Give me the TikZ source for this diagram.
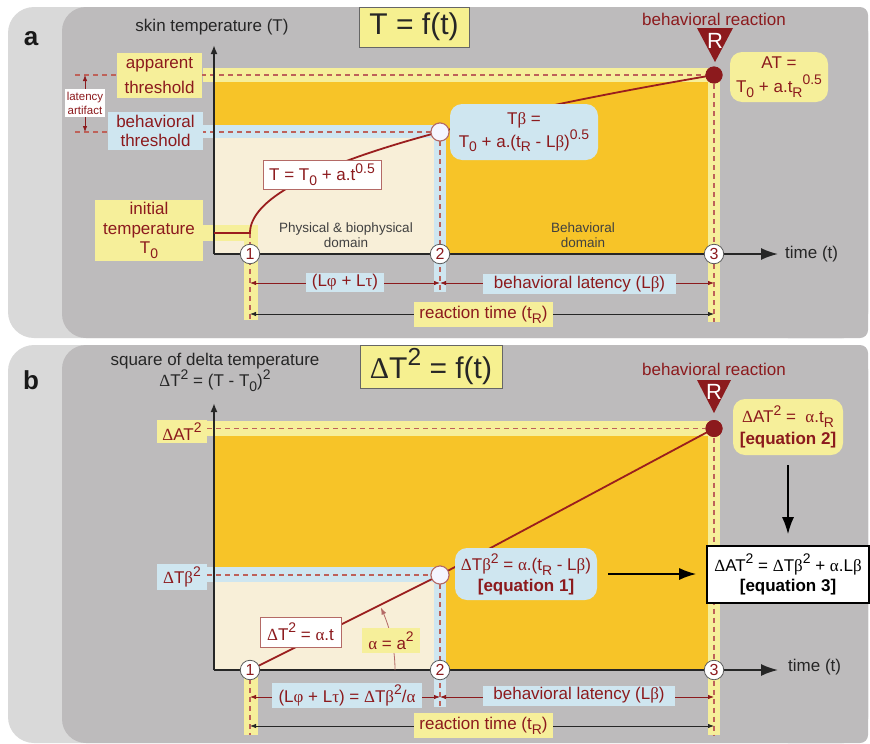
\documentclass[tikz,border=0pt]{standalone}
\usepackage{fontspec}
\setmainfont{Liberation Sans}
\newfontfamily\grkfont{Liberation Serif}
\usepackage{graphicx}
\usetikzlibrary{arrows.meta}
\definecolor{lgray}{HTML}{D9D9D9}
\definecolor{dgray}{HTML}{BDBBBC}
\definecolor{orng}{HTML}{F7C428}
\definecolor{cream}{HTML}{F8EFD8}
\definecolor{lyel}{HTML}{F6EF9A}
\definecolor{lblue}{HTML}{CFE6F0}
\definecolor{dred}{HTML}{8C1A1D}
\definecolor{dashc}{HTML}{BE6159}
\definecolor{ttly}{HTML}{F6F090}
\definecolor{curvc}{HTML}{9A1E1E}
\definecolor{thinr}{HTML}{B46A66}
\newcommand{\lo}[1]{\raisebox{-0.28em}{\scalebox{0.82}{#1}}}
\newcommand{\hi}[1]{\raisebox{0.45em}{\scalebox{0.82}{#1}}}
\newcommand{\xa}{{\grkfont α}}
\newcommand{\xb}{{\grkfont β}}
\newcommand{\xf}{{\grkfont φ}}
\newcommand{\xt}{{\grkfont τ}}
\newcommand{\xD}{{\grkfont Δ}}
\tikzset{
  lblbox/.style={inner sep=0pt, align=center, text=dred},
  ybox/.style={lblbox, fill=lyel},
  bbox/.style={lblbox, fill=lblue},
  wbox/.style={lblbox, fill=white, draw=thinr, line width=0.8pt},
  titlebox/.style={inner sep=0pt, fill=ttly, draw=gray!80!black, line width=0.8pt, font=\fontsize{30pt}{30pt}\selectfont, text=black!85},
  dsh/.style={dashc, line width=1.3pt, dash pattern=on 5pt off 4pt},
  axisln/.style={black!85, line width=1.8pt},
  dimr/.style={dred, line width=0.8pt, {Latex[length=6pt,width=4.5pt]}-{Latex[length=6pt,width=4.5pt]}},
  dimk/.style={black!85, line width=0.8pt, {Latex[length=6pt,width=4.5pt]}-{Latex[length=6pt,width=4.5pt]}},
  numc/.style={circle, draw=gray!70!black, line width=0.8pt, fill=white, minimum size=19.5pt, inner sep=0pt, text=dred, font=\fontsize{16pt}{16pt}\selectfont},
  openpt/.style={circle, draw=thinr, line width=1pt, fill=blue!4!white, minimum size=18pt, inner sep=0pt},
  fullpt/.style={circle, fill=dred, minimum size=17pt, inner sep=0pt},
  curv/.style={curvc, line width=1.8pt},
  bigarr/.style={black, line width=1.6pt, -{Latex[length=17pt,width=12pt]}},
  domtxt/.style={align=center, text=black!75, font=\fontsize{13.5pt}{15pt}\selectfont},
  plabel/.style={font=\fontsize{26pt}{26pt}\selectfont\bfseries, text=black!90},
  rtri/.style={fill=dred}
}
\begin{document}
\begin{tikzpicture}[x=1pt,y=-1pt, font=\fontsize{17pt}{21pt}\selectfont]
\useasboundingbox (0,0) rectangle (870,744);
%================ PANEL A =================
\fill[lgray, rounded corners=26pt] (8,7) rectangle (868,338);
\fill[dgray, rounded corners=24pt] (62,7) rectangle (868,338);
\fill[dgray, rounded corners=8pt] (780,7) rectangle (868,338);
% regions
\fill[orng] (214,82) rectangle (708,254);
\fill[cream] (214,138) rectangle (434,254);
% bands
\fill[lyel] (203,68) rectangle (720,82);
\fill[lyel] (708,68) rectangle (720,322);
\fill[lblue] (203,125) rectangle (446,138);
\fill[lblue] (434,125) rectangle (446,292);
\fill[lyel] (203,225) rectangle (258,241);
\fill[lyel] (244,225) rectangle (258,320);
% dashed guides
\coordinate (ga1) at (75,75);
\coordinate (ga2) at (75,132);
\coordinate (pa1) at (250,233);
\coordinate (ba1) at (250,320);
\coordinate (ba2) at (440,292);
\coordinate (ba3) at (714,322);
\node[openpt] (oa) at (440,132) {};
\node[fullpt] (fa) at (714,75) {};
\draw[dsh] (ga1) -- (fa.center);
\draw[dsh] (ga2) -- (oa.center);
\draw[dsh] (pa1) -- (ba1);
\draw[dsh] (oa.center) -- (ba2);
\draw[dsh] (fa.center) -- (ba3);
% latency artifact
\coordinate (la1) at (85,75);
\coordinate (la2) at (85,132);
\draw[dimr] (la1) -- (la2);
\node[lblbox, fill=white, minimum width=40pt, minimum height=28pt, font=\fontsize{11.5pt}{14pt}\selectfont] (lat) at (85,103) {latency\\artifact};
% axes
\coordinate (oA) at (214,254);
\coordinate (yA) at (214,45);
\coordinate (xA) at (778,254);
\draw[axisln, -{Latex[length=9pt,width=7pt]}] (oA) -- (yA);
\draw[axisln, -{Latex[length=17pt,width=12pt]}] (oA) -- (xA);
% curve
\coordinate (t0a) at (214,233);
\draw[curv] (t0a) -- (pa1) -- plot[domain=0:1, samples=80, variable=\s] ({250+464*\s*\s},{233-158*\s});
\node[openpt] at (oa) {};
\node[fullpt] at (fa) {};
% domain texts
\node[domtxt] (phys) at (346,235) {Physical \& biophysical\\domain};
\node[domtxt] (behd) at (583,235) {Behavioral\\domain};
% labels
\node[ybox, minimum width=85pt, minimum height=45pt, font=\fontsize{17pt}{25pt}\selectfont] (app) at (159.5,75.5) {apparent\\threshold};
\node[bbox, minimum width=95pt, minimum height=38pt, font=\fontsize{17pt}{18.5pt}\selectfont] (bth) at (155.5,131) {behavioral\\threshold};
\node[ybox, minimum width=108pt, minimum height=61pt, font=\fontsize{17pt}{19.5pt}\selectfont] (ini) at (149,230.5) {initial\\temperature\\T\lo{0}};
\node[wbox, minimum width=118pt, minimum height=29pt] (eqa) at (322,174.5) {T = T\lo{0} + a.t\hi{0.5}};
\node[bbox, rounded corners=12pt, minimum width=148pt, minimum height=56pt, font=\fontsize{17pt}{23pt}\selectfont] (tb) at (524,132) {T\xb{} =\\T\lo{0} + a.(t\lo{R} - L\xb)\hi{0.5}};
\node[ybox, rounded corners=12pt, minimum width=98pt, minimum height=50pt, font=\fontsize{17pt}{24pt}\selectfont] (at) at (779,77) {AT =\\T\lo{0} + a.t\lo{R}\hi{0.5}};
\node[text=black!85, inner sep=0pt] (yla) at (212,27) {skin temperature (T)};
\node[text=black!85, inner sep=0pt, anchor=west] (xla) at (785,254) {time (t)};
\node[titlebox, minimum width=110pt, minimum height=40pt] (tta) at (414,27) {T = f(t)};
\node[text=dred, inner sep=0pt] (bra) at (714,19) {behavioral reaction};
\fill[rtri] (697,28) -- (733,28) -- (715,62) -- cycle;
\node[text=white, inner sep=0pt, font=\fontsize{22pt}{22pt}\selectfont] (ra) at (715,41) {R};
\node[plabel] (pla) at (31,39) {a};
% number circles
\node[numc] (n1a) at (250,254) {1};
\node[numc] (n2a) at (440,254) {2};
\node[numc] (n3a) at (714,254) {3};
% dimension arrows
\coordinate (d1a) at (250,283);
\coordinate (d2a) at (440,283);
\coordinate (d3a) at (714,283);
\draw[dimr] (d1a) -- (d2a);
\draw[dimr] (d2a) -- (d3a);
\node[bbox, minimum width=78pt, minimum height=19pt] (lpa) at (345,282.5) {(L\xf{} + L\xt)};
\node[bbox, minimum width=193pt, minimum height=20pt] (lba) at (579.5,284) {behavioral latency (L\xb)};
\coordinate (r1a) at (250,314);
\coordinate (r3a) at (714,314);
\draw[dimk] (r1a) -- (r3a);
\node[ybox, minimum width=139pt, minimum height=25pt] (rta) at (483.5,314.5) {reaction time (t\lo{R})};
%================ PANEL B =================
\fill[lgray, rounded corners=26pt] (8,345) rectangle (868,743);
\fill[dgray, rounded corners=24pt] (62,345) rectangle (868,743);
\fill[dgray, rounded corners=8pt] (780,345) rectangle (868,743);
% regions
\fill[orng] (214,436) rectangle (708,670);
\fill[cream] (214,582) rectangle (434,670);
% bands
\fill[lyel] (157,421) rectangle (720,436);
\fill[lyel] (708,421) rectangle (720,735);
\fill[lblue] (157,567) rectangle (446,582);
\fill[lblue] (434,567) rectangle (446,707);
\fill[lyel] (244,668) rectangle (258,735);
% points
\node[openpt] (ob) at (440,575) {};
\node[fullpt] (fb) at (714,428.5) {};
\coordinate (gb1) at (207,428.5);
\coordinate (gb2) at (207,575);
\coordinate (pb1) at (250,670);
\coordinate (bb1) at (250,735);
\coordinate (bb2) at (440,707);
\coordinate (bb3) at (714,735);
\draw[dsh] (gb1) -- (fb.center);
\draw[dsh] (gb2) -- (ob.center);
\draw[dsh] (pb1) -- (bb1);
\draw[dsh] (ob.center) -- (bb2);
\draw[dsh] (fb.center) -- (bb3);
% axes
\coordinate (oB) at (214,670);
\coordinate (yB) at (214,403);
\coordinate (xB) at (778,670);
\draw[axisln, -{Latex[length=9pt,width=7pt]}] (oB) -- (yB);
\draw[axisln, -{Latex[length=17pt,width=12pt]}] (oB) -- (xB);
% line
\draw[curv] (pb1) -- (ob.center) -- (fb.center);
\node[openpt] at (ob) {};
\node[fullpt] at (fb) {};
% angle arc
\draw[thinr, line width=0.8pt, -{Latex[length=7pt,width=5pt]}] plot[domain=0:25.5, samples=30, variable=\a] ({250+145*cos(\a)},{670-145*sin(\a)});
\node[ybox, minimum width=58pt, minimum height=25pt] (alb) at (391,640.5) {\xa{} = a\hi{2}};
\node[wbox, minimum width=81pt, minimum height=30pt] (eqb) at (300.5,632) {\xD T\hi{2} = \xa.t};
% labels
\node[ybox, minimum width=50pt, minimum height=23pt] (dat) at (182,431.5) {\xD AT\hi{2}};
\node[bbox, minimum width=50pt, minimum height=26pt] (dtb) at (182,577) {\xD T\xb\hi{2}};
\node[bbox, rounded corners=12pt, minimum width=142pt, minimum height=52pt, font=\fontsize{17pt}{20.5pt}\selectfont] (eq1) at (526,574) {\xD T\xb\hi{2} = \xa.(t\lo{R} - L\xb)\\\textbf{[equation 1]}};
\node[ybox, rounded corners=12pt, minimum width=110pt, minimum height=56pt, font=\fontsize{17pt}{22pt}\selectfont] (eq2) at (788,427) {\xD AT\hi{2} =\ \ \xa.t\lo{R}\\\textbf{[equation 2]}};
\node[lblbox, text=black, fill=white, draw=black, line width=1.6pt, minimum width=162pt, minimum height=57pt, font=\fontsize{17pt}{20.5pt}\selectfont] (eq3) at (788,574.5) {\xD AT\hi{2} = \xD T\xb\hi{2} + \xa.L\xb\\\textbf{[equation 3]}};
\draw[bigarr, shorten <=11pt, shorten >=10pt] (eq1.east) -- (eq3.west |- eq1.east);
\draw[bigarr, shorten <=10pt, shorten >=11pt] (eq2.south) -- (eq3.north);
\node[text=black!85, inner sep=0pt, align=center, font=\fontsize{17pt}{21pt}\selectfont] (ylb) at (215,372.5) {square of delta temperature\\\xD T\hi{2} = (T - T\lo{0})\hi{2}};
\node[text=black!85, inner sep=0pt, anchor=west] (xlb) at (788,667) {time (t)};
\node[titlebox, minimum width=142pt, minimum height=43pt] (ttb) at (431,366.5) {\xD T\hi{2} = f(t)};
\node[text=dred, inner sep=0pt] (brb) at (714,369) {behavioral reaction};
\fill[rtri] (697,380) -- (731,380) -- (714,413) -- cycle;
\node[text=white, inner sep=0pt, font=\fontsize{22pt}{22pt}\selectfont] (rb) at (714,392) {R};
\node[plabel] (plb) at (31,380) {b};
% number circles
\node[numc] (n1b) at (250,670) {1};
\node[numc] (n2b) at (440,670) {2};
\node[numc] (n3b) at (714,670) {3};
% dimension arrows
\coordinate (d1b) at (250,697);
\coordinate (d2b) at (440,697);
\coordinate (d3b) at (714,697);
\draw[dimr] (d1b) -- (d2b);
\draw[dimr] (d2b) -- (d3b);
\node[bbox, minimum width=150pt, minimum height=25pt] (lpb) at (347,695.5) {(L\xf{} + L\xt) = \xD T\xb\hi{2}/\xa};
\node[bbox, minimum width=192pt, minimum height=20pt] (lbb) at (579,695.5) {behavioral latency (L\xb)};
\coordinate (r1b) at (250,726);
\coordinate (r3b) at (714,726);
\draw[dimk] (r1b) -- (r3b);
\node[ybox, minimum width=139pt, minimum height=25pt] (rtb) at (483.5,725.5) {reaction time (t\lo{R})};
\end{tikzpicture}
\end{document}
